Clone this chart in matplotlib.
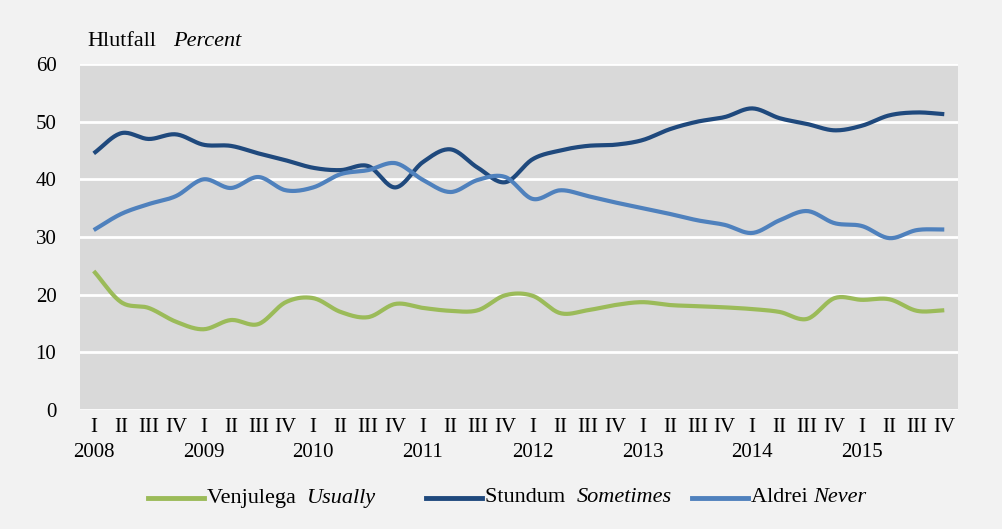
"""Share of respondents over time, quarterly 2008-2015."""
import numpy as np
import matplotlib
matplotlib.use("Agg")
import matplotlib.pyplot as plt

# =============================================================================
# DATA
# =============================================================================
years = [2008, 2009, 2010, 2011, 2012, 2013, 2014, 2015]
quarters = ["I", "II", "III", "IV"]

venjulega = [24.1, 18.7, 17.7, 15.3, 14.0, 15.6, 14.9, 18.7,
             19.4, 17.0, 16.1, 18.4, 17.7, 17.2, 17.3, 19.9,
             19.8, 16.8, 17.3, 18.2, 18.7, 18.2, 18.0, 17.8,
             17.5, 17.0, 15.8, 19.4, 19.1, 19.2, 17.2, 17.3]
stundum = [44.5, 48.0, 47.0, 47.8, 46.0, 45.8, 44.5, 43.3,
           42.0, 41.6, 42.3, 38.6, 43.0, 45.2, 42.0, 39.5,
           43.5, 45.0, 45.8, 46.0, 46.8, 48.7, 50.0, 50.8,
           52.3, 50.6, 49.6, 48.5, 49.3, 51.1, 51.6, 51.3]
aldrei = [31.2, 34.0, 35.7, 37.1, 40.0, 38.5, 40.4, 38.1,
          38.6, 40.9, 41.6, 42.8, 39.9, 37.8, 39.9, 40.4,
          36.6, 38.1, 37.1, 36.0, 35.0, 34.0, 32.9, 32.1,
          30.7, 32.9, 34.5, 32.4, 31.9, 29.8, 31.2, 31.3]


def smooth(x, y, n=20):
    """Catmull-Rom curve through the points (like Excel's smoothed line)."""
    x = np.asarray(x, float)
    y = np.asarray(y, float)
    px = np.concatenate([[2 * x[0] - x[1]], x, [2 * x[-1] - x[-2]]])
    py = np.concatenate([[2 * y[0] - y[1]], y, [2 * y[-1] - y[-2]]])
    t = np.linspace(0, 1, n, endpoint=False)
    xs, ys = [], []
    for i in range(1, len(px) - 2):
        for p, out in ((px, xs), (py, ys)):
            p0, p1, p2, p3 = p[i - 1], p[i], p[i + 1], p[i + 2]
            out.append(0.5 * (2 * p1 + (-p0 + p2) * t
                              + (2 * p0 - 5 * p1 + 4 * p2 - p3) * t ** 2
                              + (-p0 + 3 * p1 - 3 * p2 + p3) * t ** 3))
    xs.append([x[-1]])
    ys.append([y[-1]])
    return np.concatenate(xs), np.concatenate(ys)


# =============================================================================
# PLOT
# =============================================================================
plt.rcParams["font.family"] = ["Liberation Serif", "DejaVu Serif"]
plt.rcParams["font.size"] = 15

fig = plt.figure(figsize=(10.02, 5.29), dpi=100, facecolor="#f2f2f2")
ax = fig.add_axes([80 / 1002, 1 - 410 / 529, 878 / 1002, 346 / 529])
ax.set_facecolor("#d9d9d9")

n = len(venjulega)
xpos = np.arange(n)
series = [(venjulega, "#9bbb59"), (stundum, "#1f497d"), (aldrei, "#4f81bd")]
for vals, col in series:
    sx, sy = smooth(xpos, vals)
    ax.plot(sx, sy, color=col, lw=3, solid_capstyle="butt", zorder=3)

ax.set_xlim(-0.5, n - 0.5)
ax.set_ylim(0, 60)
ax.set_yticks(np.arange(0, 61, 10))
ax.yaxis.grid(True, color="white", lw=2)
ax.set_axisbelow(True)
for s in ax.spines.values():
    s.set_visible(False)
ax.tick_params(axis="both", length=0, labelsize=15)
ax.tick_params(axis="y", pad=17)

ax.set_xticks(xpos)
ax.set_xticklabels(quarters * len(years))
ax.tick_params(axis="x", pad=6)
for i, yr in enumerate(years):
    ax.text(i * 4, -0.095, str(yr), transform=ax.get_xaxis_transform(),
            ha="center", va="top", fontsize=15)

fig.text(87 / 1002, 1 - 42 / 529, "Hlutfall", ha="left", va="center", fontsize=16)
fig.text(173 / 1002, 1 - 42 / 529, "Percent", ha="left", va="center",
         fontsize=16, style="italic")

# legend drawn by hand, labels mix upright and italic text
legend_items = [("Venjulega", "Usually", "#9bbb59", 148),
                ("Stundum", "Sometimes", "#1f497d", 426),
                ("Aldrei", "Never", "#4f81bd", 692)]
ly = 1 - 498 / 529
for name, eng, col, x0 in legend_items:
    fig.add_artist(plt.Line2D([x0 / 1002, (x0 + 56) / 1002], [ly, ly],
                              color=col, lw=3.5, transform=fig.transFigure))
    gap = "  " if name != "Aldrei" else " "
    t = fig.text((x0 + 59) / 1002, ly, name + gap, ha="left", va="center", fontsize=16)
    fig.canvas.draw()
    bb = t.get_window_extent()
    fig.text(bb.x1 / 1002, ly, eng, ha="left", va="center", fontsize=16, style="italic")

fig.savefig("out.png", dpi=100, facecolor=fig.get_facecolor())
